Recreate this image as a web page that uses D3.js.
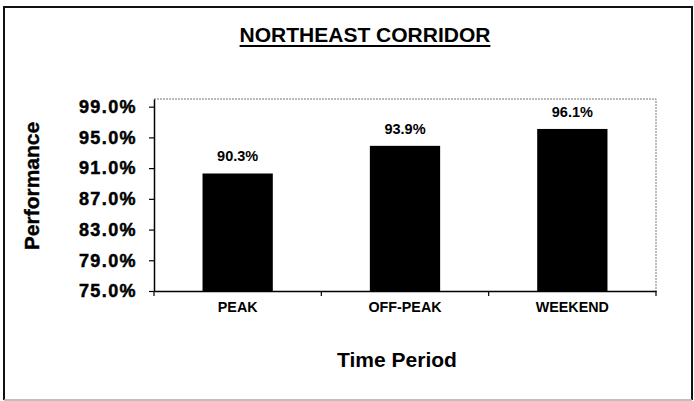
<!DOCTYPE html>
<html>
<head>
<meta charset="utf-8">
<script src="https://cdn.jsdelivr.net/npm/d3@7"></script>
<style>
  body { margin: 0; background: #fff; }
  text { font-family: Arial, "Liberation Sans", sans-serif; font-weight: bold; fill: #000; }
</style>
</head>
<body>
<div id="chart"></div>
<script>
// chart data
const periods = ["PEAK", "OFF-PEAK", "WEEKEND"];
const performance = [90.3, 93.9, 96.1];
const yTicks = [75, 79, 83, 87, 91, 95, 99];

const svgWidth = 694;
const svgHeight = 401;

const margin = { top: 99, right: 38, bottom: 110, left: 154 };
const width = svgWidth - margin.left - margin.right;
const height = svgHeight - margin.top - margin.bottom;

const svg = d3.select("#chart")
  .append("svg")
  .attr("width", svgWidth)
  .attr("height", svgHeight);

// outer frame
svg.append("path")
  .attr("d", `M4,400 L4,7 L692,7 L692,400`)
  .attr("fill", "none")
  .attr("stroke", "#111")
  .attr("stroke-width", 2);
svg.append("line")
  .attr("x1", 4).attr("x2", 692)
  .attr("y1", 400).attr("y2", 400)
  .attr("stroke", "#aaa")
  .attr("stroke-width", 1.5);

const chartGroup = svg.append("g")
  .attr("transform", `translate(${margin.left}, ${margin.top})`);

const xScale = d3.scaleBand()
  .domain(periods)
  .range([0, width])
  .padding(0);

const yScale = d3.scaleLinear()
  .domain([75, 100])
  .range([height, 0]);

// plot area border (top and right, dotted grey)
chartGroup.append("path")
  .attr("d", `M0,0 L${width},0 L${width},${height}`)
  .attr("fill", "none")
  .attr("stroke", "#777")
  .attr("stroke-width", 1)
  .attr("stroke-dasharray", "2,1");

// bars
const barFrac = 0.42;
chartGroup.selectAll("rect.bar")
  .data(periods)
  .enter()
  .append("rect")
  .attr("class", "bar")
  .attr("x", (d, i) => xScale(d) + xScale.bandwidth() * (1 - barFrac) / 2)
  .attr("width", xScale.bandwidth() * barFrac)
  .attr("y", (d, i) => yScale(performance[i]))
  .attr("height", (d, i) => height - yScale(performance[i]))
  .attr("fill", "#000");

// value labels
chartGroup.selectAll("text.value")
  .data(periods)
  .enter()
  .append("text")
  .attr("class", "value")
  .attr("x", d => xScale(d) + xScale.bandwidth() / 2)
  .attr("y", (d, i) => yScale(performance[i]) - 12)
  .attr("text-anchor", "middle")
  .style("font-size", "14.5px")
  .text((d, i) => performance[i].toFixed(1) + "%");

// y axis
const leftAxis = d3.axisLeft(yScale)
  .tickValues(yTicks)
  .tickFormat(d => d.toFixed(1) + "%")
  .tickSize(5)
  .tickSizeOuter(0)
  .tickPadding(12);

const yAxis = chartGroup.append("g")
  .call(leftAxis);
yAxis.select(".domain").attr("stroke", "#000").attr("stroke-width", 1.5);
yAxis.selectAll(".tick line").attr("stroke", "#000").attr("stroke-width", 1.2);
yAxis.selectAll("text")
  .style("font-size", "18px")
  .style("letter-spacing", "1.4px")
  .style("font-family", "Arial, 'Liberation Sans', sans-serif")
  .style("font-weight", "bold")
  .attr("fill", "#000")
  .attr("stroke", "#000")
  .attr("stroke-width", 0.5);

// x axis, labels at band centres
const bottomAxis = d3.axisBottom(xScale)
  .tickSize(0)
  .tickPadding(11);

const xAxis = chartGroup.append("g")
  .attr("transform", `translate(0, ${height})`)
  .call(bottomAxis);
xAxis.select(".domain").attr("stroke", "#000").attr("stroke-width", 1.5);
xAxis.selectAll("text")
  .style("font-size", "14.3px")
  .style("font-family", "Arial, 'Liberation Sans', sans-serif")
  .style("font-weight", "bold")
  .attr("fill", "#000");

// x tick marks at category boundaries
const boundaries = periods.map(d => xScale(d)).concat([xScale.range()[1]]);
chartGroup.selectAll("line.xtick")
  .data(boundaries)
  .enter()
  .append("line")
  .attr("class", "xtick")
  .attr("x1", d => d).attr("x2", d => d)
  .attr("y1", height).attr("y2", height + 5)
  .attr("stroke", "#000")
  .attr("stroke-width", 1.2);

// title
const title = svg.append("text")
  .attr("x", 365)
  .attr("y", 42)
  .attr("text-anchor", "middle")
  .style("font-size", "21px")
  .text("NORTHEAST CORRIDOR");
const tw = title.node().getComputedTextLength();
svg.append("line")
  .attr("x1", 365 - tw / 2).attr("x2", 365 + tw / 2)
  .attr("y1", 46).attr("y2", 46)
  .attr("stroke", "#000")
  .attr("stroke-width", 2);

// axis titles
svg.append("text")
  .attr("x", 397)
  .attr("y", 367)
  .attr("text-anchor", "middle")
  .style("font-size", "21px")
  .text("Time Period");

svg.append("text")
  .attr("transform", "translate(39, 186) rotate(-90)")
  .attr("text-anchor", "middle")
  .style("font-size", "21px")
  .attr("stroke", "#000")
  .attr("stroke-width", 0.4)
  .text("Performance");
</script>
</body>
</html>
